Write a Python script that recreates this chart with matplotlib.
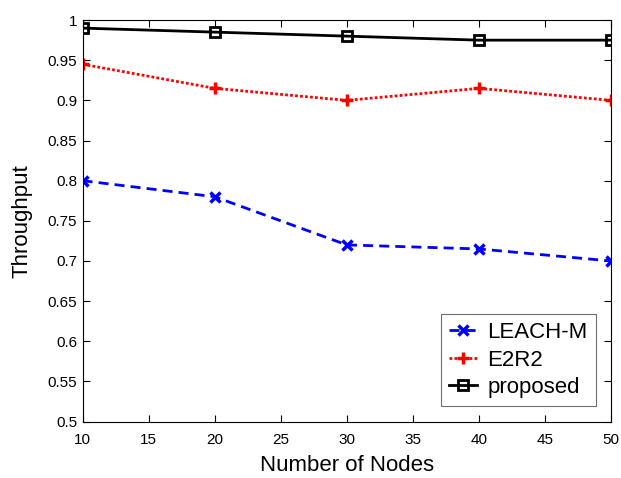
import matplotlib
matplotlib.use("Agg")
import matplotlib.pyplot as plt

# Throughput vs. network size for the three clustering schemes
nodes = [10, 20, 30, 40, 50]
leach_m = [0.80, 0.78, 0.72, 0.715, 0.70]
e2r2 = [0.945, 0.915, 0.90, 0.915, 0.90]
proposed = [0.99, 0.985, 0.98, 0.975, 0.975]

x_ticks = [10, 15, 20, 25, 30, 35, 40, 45, 50]
y_ticks = [0.5, 0.55, 0.6, 0.65, 0.7, 0.75, 0.8, 0.85, 0.9, 0.95, 1.0]
y_labels = ["0.5", "0.55", "0.6", "0.65", "0.7", "0.75", "0.8", "0.85", "0.9", "0.95", "1"]

plt.rcParams["font.family"] = ["Liberation Sans", "DejaVu Sans"]

fig = plt.figure(figsize=(6.21, 4.78), dpi=100)
ax = fig.add_axes([0.133, 0.118, 0.851, 0.840])

ax.plot(nodes, leach_m, color="#0000ff", linestyle=(0, (3.6, 2.2)), linewidth=2.0,
        marker="x", markersize=7, markeredgewidth=2.5, label="LEACH-M")
ax.plot(nodes, e2r2, color="#ff0000", linestyle=(0, (1, 0.8)), linewidth=2.0,
        marker="+", markersize=9, markeredgewidth=2.5, label="E2R2")
ax.plot(nodes, proposed, color="black", linestyle="-", linewidth=2.0,
        marker="s", markersize=7, markeredgewidth=2, markerfacecolor="none",
        label="proposed")

ax.set_xlim(10, 50)
ax.set_ylim(0.5, 1.0)
ax.set_xticks(x_ticks)
ax.set_yticks(y_ticks)
ax.set_yticklabels(y_labels)
ax.tick_params(direction="in", top=True, right=True, labelsize=11, length=5,
               width=0.8)
ax.tick_params(axis="x", pad=8)
ax.tick_params(axis="y", pad=4)
for spine in ax.spines.values():
    spine.set_linewidth(0.8)

ax.set_xlabel("Number of Nodes", fontsize=16, labelpad=6)
ax.set_ylabel("Throughput", fontsize=16, labelpad=11)

leg = ax.legend(loc="lower right", fontsize=16, fancybox=False, framealpha=1,
                edgecolor="#707070", borderpad=0.35, labelspacing=0.3,
                handlelength=1.3, handletextpad=0.45, borderaxespad=0.7)
leg.get_frame().set_linewidth(0.8)

fig.savefig("out.png", dpi=100)
